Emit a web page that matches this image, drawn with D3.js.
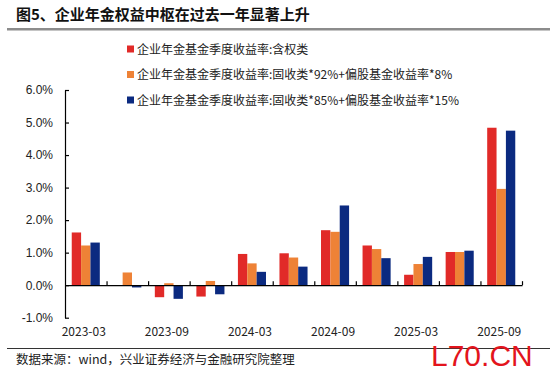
<!DOCTYPE html>
<html lang="zh">
<head>
<meta charset="UTF-8">
<title>图5</title>
<script src="https://cdn.jsdelivr.net/npm/d3@7"></script>
<style>
	body { margin: 0; background: #fff; }
	svg { display: block; font-family: "Noto Sans CJK SC", "Noto Sans", sans-serif; }
	.axis text { font-size: 12px; fill: #222; }
	.axis path, .axis line { stroke: #000; stroke-width: 1.2; }
</style>
</head>
<body>
<div id="chart"></div>
<script>
	// quarters (every other one is labelled)
	var quarters = ["2023-03", "2023-06", "2023-09", "2023-12", "2024-03", "2024-06",
		"2024-09", "2024-12", "2025-03", "2025-06", "2025-09"];
	var xLabels = ["2023-03", "2023-09", "2024-03", "2024-09", "2025-03", "2025-09"];
	var yTicks = [-1, 0, 1, 2, 3, 4, 5, 6];

	var seriesNames = [
		"企业年金基金季度收益率:含权类",
		"企业年金基金季度收益率:固收类*92%+偏股基金收益率*8%",
		"企业年金基金季度收益率:固收类*85%+偏股基金收益率*15%"
	];
	var seriesColors = ["#e12a28", "#ee8236", "#0b2a80"];

	// values in %
	var equityRet = [1.62, 0.0, -0.37, -0.35, 0.96, 0.98, 1.69, 1.22, 0.32, 1.02, 4.84];
	var mix92Ret = [1.22, 0.39, 0.06, 0.13, 0.67, 0.85, 1.64, 1.11, 0.65, 1.02, 2.96];
	var mix85Ret = [1.31, -0.07, -0.42, -0.28, 0.41, 0.57, 2.45, 0.83, 0.87, 1.06, 4.75];
	var seriesVals = [equityRet, mix92Ret, mix85Ret];

	var W = 550, H = 373;
	var svg = d3.select("#chart").append("svg").attr("width", W).attr("height", H);

	// title + rule
	svg.append("text").attr("x", 16).attr("y", 20)
		.style("font-size", "15px").style("font-weight", "bold").attr("fill", "#111")
		.text("图5、企业年金权益中枢在过去一年显著上升");
	svg.append("rect").attr("x", 7).attr("y", 28).attr("width", 543).attr("height", 2.5).attr("fill", "#8c8c8c");

	// legend
	var leg = svg.append("g").selectAll("g").data(seriesNames).join("g")
		.attr("transform", function(d, i) { return "translate(127," + (49 + i * 25.5) + ")"; });
	leg.append("rect").attr("x", 0).attr("y", -3.5).attr("width", 7).attr("height", 7)
		.attr("fill", function(d, i) { return seriesColors[i]; });
	leg.append("text").attr("x", 10).attr("y", 4.5).style("font-size", "12px").attr("fill", "#222")
		.text(function(d) { return d; });

	// scales
	var left = 65, right = 522;
	var y = d3.scaleLinear().domain([-1, 6]).range([317.7, 90]);
	var x0 = d3.scaleBand().domain(quarters).range([left, right]).padding(0);
	var x1 = d3.scaleBand().domain([0, 1, 2]).range([0, x0.bandwidth()]).paddingInner(0).paddingOuter(0.72);
	var xIdx = d3.scaleLinear().domain([0, quarters.length]).range([left, right]);

	// bars
	var groups = svg.append("g").selectAll("g").data(quarters).join("g")
		.attr("transform", function(d) { return "translate(" + x0(d) + ",0)"; });
	groups.selectAll("rect").data(function(d, qi) {
			return seriesVals.map(function(s, si) { return { si: si, v: s[qi] }; });
		}).join("rect")
		.attr("x", function(d) { return x1(d.si); })
		.attr("width", x1.bandwidth())
		.attr("y", function(d) { return y(Math.max(0, d.v)); })
		.attr("height", function(d) { return Math.abs(y(d.v) - y(0)); })
		.attr("fill", function(d) { return seriesColors[d.si]; });

	// x axis at zero, ticks pointing up at the group boundaries
	svg.append("g").attr("class", "axis")
		.attr("transform", "translate(0," + y(0) + ")")
		.call(d3.axisBottom(xIdx).tickValues(d3.range(1, quarters.length + 1)).tickSize(-4).tickSizeOuter(0).tickFormat(""));

	// x labels
	svg.append("g").attr("class", "axis").selectAll("text").data(xLabels).join("text")
		.attr("x", function(d) { return x0(d) + x0.bandwidth() / 2 - 2; })
		.attr("y", 336)
		.attr("text-anchor", "middle")
		.text(function(d) { return d; });

	// y axis
	svg.append("g").attr("class", "axis")
		.attr("transform", "translate(" + left + ",0)")
		.call(d3.axisLeft(y).tickValues(yTicks).tickSize(-4).tickSizeOuter(0).tickPadding(12)
			.tickFormat(function(d) { return d.toFixed(1) + "%"; }));

	// footer
	svg.append("line").attr("x1", 7).attr("x2", 550).attr("y1", 348.5).attr("y2", 348.5)
		.attr("stroke", "#333").attr("stroke-width", 1);
	svg.append("text").attr("x", 16).attr("y", 364).style("font-size", "12.5px").attr("fill", "#222")
		.text("数据来源：wind，兴业证券经济与金融研究院整理");
	svg.append("text").attr("x", 431).attr("y", 366)
		.style("font-family", "Liberation Sans, Arial, sans-serif").style("font-size", "30px")
		.attr("fill", "#e3141c").text("L70.CN");
</script>
</body>
</html>
